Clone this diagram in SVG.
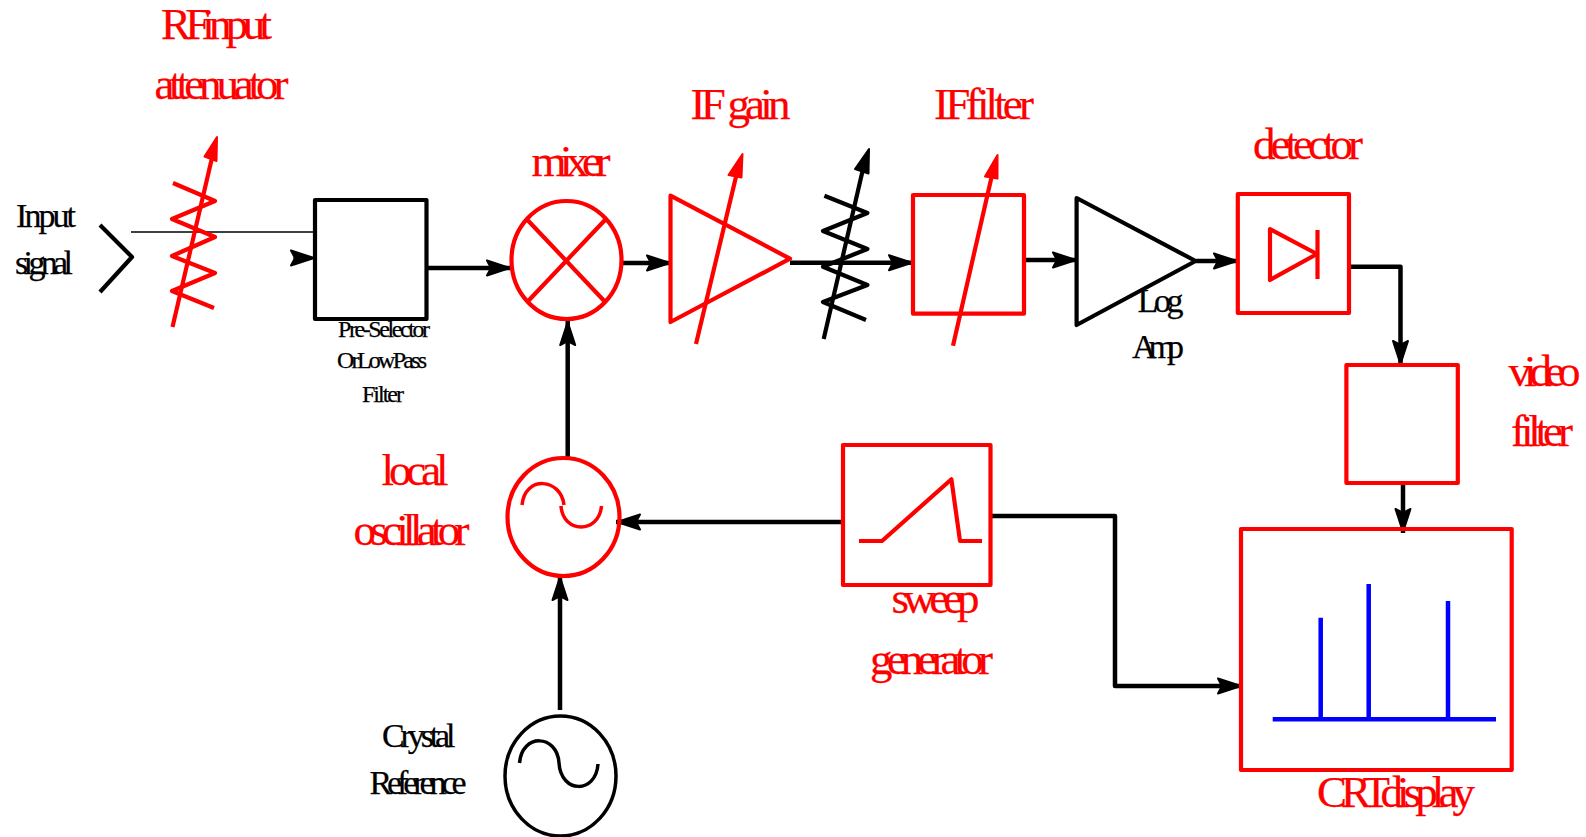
<svg xmlns="http://www.w3.org/2000/svg" width="1586" height="837" viewBox="0 0 1586 837">
<style>
text{font-family:"Liberation Serif","Times New Roman",serif}
.r{fill:#f00;stroke:#f00;stroke-width:.25}
.k{fill:#000;stroke:#000;stroke-width:.25}
.t44{font-size:45px}
.t33{font-size:34px}
.t23{font-size:24px}
.ns{word-spacing:-8px}
.ns2{word-spacing:-3px}
.sr,.sk{fill:none;stroke-width:4.200;stroke-linejoin:round}
.sr{stroke:#f00}
.sk{stroke:#000}
.thin{stroke-width:3.500}
.b{fill:none;stroke:#00f;stroke-width:4.500}
.c{fill:none;stroke:#000;stroke-width:4.500;stroke-linejoin:round}
.hr{fill:#f00;stroke:#f00;stroke-width:2;stroke-linejoin:round}
.hk{fill:#000;stroke:#000;stroke-width:2;stroke-linejoin:round}
</style>
<defs>
<marker id="ah" markerUnits="userSpaceOnUse" markerWidth="30" markerHeight="22" viewBox="-2 -11 30 22" refX="25" refY="0" orient="auto">
<path d="M1,-7.500 L24,0 L1,7.500 L5,0 Z" fill="#000" stroke="#000" stroke-width="2" stroke-linejoin="round"/>
</marker>
</defs>
<g id="connectors">
<path class="c" d="M293,258 L315,258" style="stroke-width:1" marker-end="url(#ah)"/>
<path class="c" d="M428,268 L511,268" marker-end="url(#ah)"/>
<path class="c" d="M622,263 L671,263" marker-end="url(#ah)"/>
<path class="c" d="M790,262.700 L913,262.700" marker-end="url(#ah)"/>
<path class="c" d="M1024,260 L1077,260" marker-end="url(#ah)"/>
<path class="c" d="M1196,261 L1238,261" marker-end="url(#ah)"/>
<path class="c" d="M1351,266.700 L1400.500,266.700 L1400.500,365" marker-end="url(#ah)"/>
<path class="c" d="M1403,483 L1403,533" marker-end="url(#ah)"/>
<path class="c" d="M843,522 L616,522" marker-end="url(#ah)"/>
<path class="c" d="M567.700,457 L567.700,321" marker-end="url(#ah)"/>
<path class="c" d="M560,710 L560,576" marker-end="url(#ah)"/>
<path class="c" d="M991,516 L1115,516 L1115,686 L1242,686" marker-end="url(#ah)"/>
</g>
<g id="input-signal">
<text class="k t33" x="16" y="227" textLength="60" lengthAdjust="spacing">Input</text>
<text class="k t33" x="15" y="274" textLength="58" lengthAdjust="spacing">signal</text>
<path class="sk" d="M100,225 L132,257 L100,292"/>
<path d="M131,232 L315,232" fill="none" stroke="#000" stroke-width="1.500"/>
</g>
<g id="rf-attenuator">
<text class="r t44 ns" x="161" y="39" textLength="111" lengthAdjust="spacing">RF input</text>
<text class="r t44" x="154.500" y="99" textLength="134" lengthAdjust="spacing">attenuator</text>
<path class="sr" d="M173,183 L215,201 L172,219 L215,237 L172,256 L215,273 L172,291 L214,308"/>
<path class="sr" d="M172.500,327 L215,145"/>
<polygon class="hr" points="217,137 204.500,156.500 216.500,161"/>
</g>
<g id="pre-selector">
<rect class="sk" x="315" y="200" width="111.500" height="119"/>
<text class="k t23" x="338" y="337" textLength="92" lengthAdjust="spacing">Pre-Selector</text>
<text class="k t23 ns2" x="337" y="368" textLength="90" lengthAdjust="spacing">Or Low Pass</text>
<text class="k t23" x="362" y="402" textLength="42" lengthAdjust="spacing">Filter</text>
</g>
<g id="mixer">
<text class="r t44" x="531.500" y="176" textLength="79" lengthAdjust="spacing">mixer</text>
<ellipse class="sr" cx="566.500" cy="260" rx="55" ry="59"/>
<path class="sr" d="M527.500,220 L605,301.700 M605,220 L527.500,301.700"/>
</g>
<g id="if-gain">
<text class="r t44" x="690.500" y="118.500" textLength="100" lengthAdjust="spacing">IF gain</text>
<polygon class="sr" points="670.500,195.700 790,258.700 670.500,322"/>
<path class="sr" d="M696,344 L740,160"/>
<polygon class="hr" points="742.500,154 728.500,175 741.500,177.500"/>
</g>
<g id="variable-resistor">
<path class="sk" d="M824.400,195.700 L867.400,213 L823,231 L867.400,249 L823,266.700 L867.400,285 L823,302 L866,320"/>
<path class="sk" d="M823.700,339 L866,156"/>
<polygon class="hk" points="869,149 855,169 868.500,173.500"/>
</g>
<g id="if-filter">
<text class="r t44 ns" x="934" y="118.500" textLength="100" lengthAdjust="spacing">IF filter</text>
<rect class="sr" x="913" y="195" width="111" height="118.700"/>
<path class="sr" d="M953,345.700 L995,162"/>
<polygon class="hr" points="997.500,155 985,176.500 997.500,178.500"/>
</g>
<g id="log-amp">
<polygon class="sk" points="1076.600,198 1195.600,261 1076.600,325"/>
<text class="k t33" x="1137.500" y="312" textLength="46" lengthAdjust="spacing">Log</text>
<text class="k t33" x="1132" y="358" textLength="52" lengthAdjust="spacing">Amp</text>
</g>
<g id="detector">
<text class="r t44" x="1253" y="158.500" textLength="110" lengthAdjust="spacing">detector</text>
<rect class="sr" x="1237.800" y="194" width="111.200" height="119"/>
<polygon class="sr" points="1270,229 1317,254 1270,280"/>
<path class="sr" d="M1317.500,230 L1317.500,279"/>
</g>
<g id="video-filter">
<rect class="sr" x="1346.400" y="365" width="111.400" height="118"/>
<text class="r t44" x="1508.500" y="386" textLength="72" lengthAdjust="spacing">video</text>
<text class="r t44" x="1511" y="445.500" textLength="62" lengthAdjust="spacing">filter</text>
</g>
<g id="crt-display">
<rect class="sr" x="1241" y="529" width="270.700" height="241"/>
<path class="b" d="M1272.700,719.300 L1496,719.300 M1320.700,719.300 L1320.700,617.700 M1368.700,719.300 L1368.700,584 M1448,719.300 L1448,601"/>
<text class="r t44 ns" x="1317" y="807" textLength="158" lengthAdjust="spacing">CRT display</text>
</g>
<g id="sweep-generator">
<rect class="sr" x="843" y="445" width="147.500" height="140"/>
<path class="sr" d="M859,541 L882,541 L951.400,479.300 L960,541 L982,541"/>
<text class="r t44" x="891.500" y="613" textLength="88" lengthAdjust="spacing">sweep</text>
<text class="r t44" x="870" y="673.500" textLength="123" lengthAdjust="spacing">generator</text>
</g>
<g id="local-oscillator">
<text class="r t44" x="381.500" y="484.500" textLength="67" lengthAdjust="spacing">local</text>
<text class="r t44" x="353.500" y="545" textLength="116" lengthAdjust="spacing">oscillator</text>
<ellipse class="sr" cx="563.500" cy="517" rx="56" ry="59"/>
<path class="sr thin" d="M522,505 C525,475 561,478 564,505 M561,506 C563,534 599,534 601.500,506"/>
</g>
<g id="crystal-reference">
<text class="k t33" x="382" y="747" textLength="73.500" lengthAdjust="spacing">Crystal</text>
<text class="k t33" x="369.500" y="794" textLength="97" lengthAdjust="spacing">Reference</text>
<ellipse class="sk thin" cx="560.500" cy="776" rx="55.500" ry="60"/>
<path class="sk thin" d="M519.500,763 C522,733 557,734 559,763 C561,794 596,794 598,764"/>
</g>
</svg>
